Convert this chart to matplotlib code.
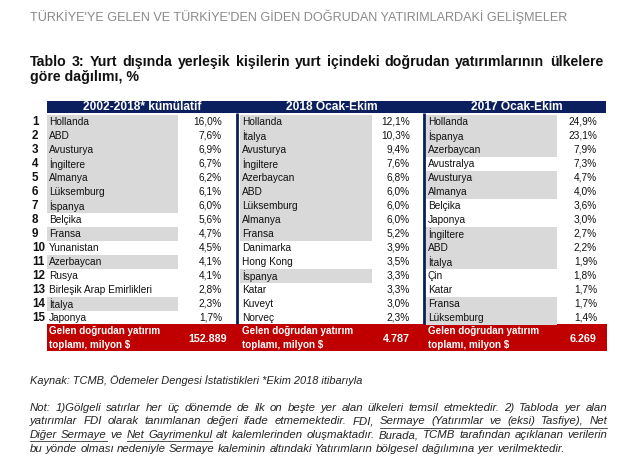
"""Tablo 3: yurt disinda yerlesik kisilerin dogrudan yatirimlarinin ulkelere gore dagilimi."""

import matplotlib
matplotlib.use("Agg")
import matplotlib.pyplot as plt
from matplotlib.patches import Rectangle

# --- data ------------------------------------------------------------------
headers = ["2002-2018* kümülatif", "2018 Ocak-Ekim", "2017 Ocak-Ekim"]

names_cum = ["Hollanda", "ABD", "Avusturya", "İngiltere", "Almanya", "Lüksemburg",
             "İspanya", "Belçika", "Fransa", "Yunanistan", "Azerbaycan", "Rusya",
             "Birleşik Arap Emirlikleri", "İtalya", "Japonya"]
vals_cum = [16.0, 7.6, 6.9, 6.7, 6.2, 6.1, 6.0, 5.6, 4.7, 4.5, 4.1, 4.1, 2.8, 2.3, 1.7]

names_2018 = ["Hollanda", "İtalya", "Avusturya", "İngiltere", "Azerbaycan", "ABD",
              "Lüksemburg", "Almanya", "Fransa", "Danimarka", "Hong Kong", "İspanya",
              "Katar", "Kuveyt", "Norveç"]
vals_2018 = [12.1, 10.3, 9.4, 7.6, 6.8, 6.0, 6.0, 6.0, 5.2, 3.9, 3.5, 3.3, 3.3, 3.0, 2.3]

names_2017 = ["Hollanda", "İspanya", "Azerbaycan", "Avustralya", "Avusturya", "Almanya",
              "Belçika", "Japonya", "İngiltere", "ABD", "İtalya", "Çin", "Katar",
              "Fransa", "Lüksemburg"]
vals_2017 = [24.9, 23.1, 7.9, 7.3, 4.7, 4.0, 3.6, 3.0, 2.7, 2.2, 1.9, 1.8, 1.7, 1.7, 1.4]

totals = ["152.889", "4.787", "6.269"]
total_label = ["Gelen doğrudan yatırım", "toplamı, milyon $"]

top_line = "TÜRKİYE'YE GELEN VE TÜRKİYE'DEN GİDEN DOĞRUDAN YATIRIMLARDAKİ GELİŞMELER"
title_1 = "Tablo 3: Yurt dışında yerleşik kişilerin yurt içindeki doğrudan yatırımlarının ülkelere"
title_2 = "göre dağılımı, %"
source = "Kaynak: TCMB, Ödemeler Dengesi İstatistikleri *Ekim 2018 itibarıyla"
# words starting with _ are underlined
note_lines = [
    "Not: 1)Gölgeli satırlar her üç dönemde de ilk on beşte yer alan ülkeleri temsil etmektedir. 2) Tabloda yer alan",
    "yatırımlar FDI olarak tanımlanan değeri ifade etmemektedir. FDI, _Sermaye _(Yatırımlar _ve _(eksi) _Tasfiye), _Net",
    "_Diğer _Sermaye ve _Net _Gayrimenkul alt kalemlerinden oluşmaktadır. Burada, TCMB tarafından açıklanan verilerin",
    "bu yönde olması nedeniyle Sermaye kaleminin altındaki Yatırımların bölgesel dağılımına yer verilmektedir.",
]

# countries in the top 15 in all three periods are shaded
common = set(names_cum) & set(names_2018) & set(names_2017)

NAVY = "#0b1f5e"
RED = "#c00000"
GREY = "#d9d9d9"
FONT = "Liberation Sans"

fig = plt.figure(figsize=(6.4, 4.7), dpi=100)
ax = fig.add_axes([0, 0, 1, 1])
ax.set_xlim(0, 640)
ax.set_ylim(470, 0)
ax.axis("off")
renderer = fig.canvas.get_renderer()


def width(t):
    return t.get_window_extent(renderer).width


def fit(text, target, **kw):
    # font size that makes `text` about `target` pixels wide
    t = ax.text(0, 0, text, fontsize=10, family=FONT, **kw)
    w = width(t)
    t.remove()
    return 10 * target / w


def line(text, x0, x1, y, justify=True, **kw):
    words = text.split(" ")
    objs, under = [], []
    for w in words:
        u = w.startswith("_")
        objs.append(ax.text(0, y, w[1:] if u else w, va="center", ha="left", **kw))
        under.append(u)
    ws = [width(o) for o in objs]
    if justify:
        gap = (x1 - x0 - sum(ws)) / (len(objs) - 1)
    else:
        p1 = ax.text(0, y, "a a", **kw)
        p2 = ax.text(0, y, "aa", **kw)
        gap = width(p1) - width(p2)
        p1.remove()
        p2.remove()
    x = x0
    for i, (o, w) in enumerate(zip(objs, ws)):
        o.set_x(x)
        if under[i]:
            end = x + w + (gap if i + 1 < len(objs) and under[i + 1] else 0)
            ax.plot([x, end], [y + 6, y + 6], color="#333333", lw=0.6)
        x += w + gap


fs_top = fit(top_line, 542)
fs_title = fit(title_1, 562, weight="bold")
fs_cell = fit("Birleşik Arap Emirlikleri", 104)
fs_rank = fit("15", 13, weight="bold")
fs_head = fit(headers[0], 117, weight="bold")
fs_tot = fit(total_label[0], 111, weight="bold")
fs_totv = fit(totals[0], 39, weight="bold")
fs_note = fit(note_lines[3], 536, style="italic")
fs_src = fit(source, 332, style="italic")

# --- titles ----------------------------------------------------------------
ax.text(30, 17, top_line, fontsize=fs_top, color="#8a8a8a", family=FONT, va="center")
line(title_1, 30, 603, 62, fontsize=fs_title, weight="bold", family=FONT, color="#111111")
ax.text(30, 77, title_2, fontsize=fs_title, weight="bold", family=FONT, color="#111111",
        va="center")

# --- table -----------------------------------------------------------------
y0, dy = 122, 14.0
cols = [
    (names_cum, vals_cum, 49, 222, 47, 178),
    (names_2018, vals_2018, 242, 410, 240, 372),
    (names_2017, vals_2017, 428, 597, 426, 557),
]
hdr_x = [142, 332, 517]

ax.add_patch(Rectangle((47, 101), 559, 12, color=NAVY, lw=0))
ax.add_patch(Rectangle((47, 324), 560, 27, color=RED, lw=0))
for xl in (237, 424):
    ax.plot([xl, xl], [113, 324], color=NAVY, lw=2.0, solid_capstyle="butt")

for k, (names, vals, nx, vx, sx0, sx1) in enumerate(cols):
    ax.text(hdr_x[k], 107.5, headers[k], color="white", weight="bold", fontsize=fs_head,
            family=FONT, ha="center", va="center")
    for i, (n, v) in enumerate(zip(names, vals)):
        y = y0 + i * dy
        if n in common:
            ax.add_patch(Rectangle((sx0, y - dy / 2), sx1 - sx0, dy, color=GREY, lw=0))
        ax.text(nx, y, n, fontsize=fs_cell, family=FONT, color="#111111", va="center")
        ax.text(vx, y, f"{v:.1f}%".replace(".", ","), fontsize=fs_cell, family=FONT,
                color="#111111", va="center", ha="right")
        if k == 0:
            ax.text(32, y, str(i + 1), fontsize=fs_rank, weight="bold", family=FONT,
                    color="#111111", va="center")
    ax.text(nx, 331.5, total_label[0], color="white", weight="bold", fontsize=fs_tot,
            family=FONT, va="center")
    ax.text(nx, 345, total_label[1], color="white", weight="bold", fontsize=fs_tot,
            family=FONT, va="center")
    ax.text(vx + (5 if k == 0 else 0), 338.5, totals[k], color="white", weight="bold",
            fontsize=fs_totv, family=FONT, va="center", ha="right")

# --- notes -----------------------------------------------------------------
ax.text(30, 381, source, fontsize=fs_src, style="italic", family=FONT, color="#222222",
        va="center")
for j, t in enumerate(note_lines):
    line(t, 30, 607, 408 + j * 13.5, justify=j < 3, fontsize=fs_note, style="italic",
         family=FONT, color="#222222")

fig.savefig("out.png", dpi=100)
